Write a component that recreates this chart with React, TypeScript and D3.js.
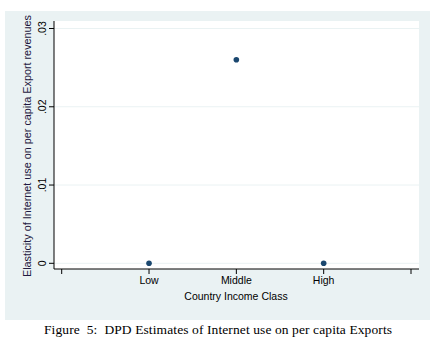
import React from "react";
import * as d3 from "d3";

const categories = ["Low", "Middle", "High"];
const categoryPositions = [1, 2, 3];
const elasticity = [0, 0.026, 0];
const yTicks = [0, 0.01, 0.02, 0.03];
const yTickLabels = ["0", ".01", ".02", ".03"];
const xTicks = [0, 1, 2, 3, 4];
const yTitle = "Elasticity of Internet use on per capita Export revenues";
const xTitle = "Country Income Class";
const caption = "Figure  5:  DPD Estimates of Internet use on per capita Exports";

export default function App() {
  const W = 438, H = 347;
  const plotL = 54, plotR = 419, plotT = 21, plotB = 269;
  const x = d3.scaleLinear().domain([0, 4]).range([61.7, 411]);
  const y = d3.scaleLinear().domain([0, 0.03]).range([263.3, 28.5]);
  const font = "'Liberation Sans', Arial, sans-serif";
  return (
    <svg width={W} height={H} style={{ position: "absolute", left: 0, top: 0, display: "block" }}>
      <rect x={0} y={0} width={W} height={H} fill="#ffffff" />
      <rect x={5} y={11} width={425} height={309} fill="#eaf2f3" />
      <rect x={plotL} y={plotT} width={plotR - plotL} height={plotB - plotT} fill="#ffffff" />
      {yTicks.map((t, i) => (
        <line key={"g" + i} x1={plotL} x2={plotR} y1={y(t)} y2={y(t)} stroke="#eaf2f3" strokeWidth={1} />
      ))}
      {/* y axis */}
      <line x1={plotL} x2={plotL} y1={plotT} y2={plotB} stroke="#000" strokeWidth={1} />
      {yTicks.map((t, i) => (
        <g key={"yt" + i}>
          <line x1={plotL - 5} x2={plotL} y1={y(t)} y2={y(t)} stroke="#000" strokeWidth={1} />
          <text
            transform={`translate(${plotL - 8},${y(t)}) rotate(-90)`}
            textAnchor="middle"
            fontFamily={font}
            fontSize={10.5}
            fill="#000"
          >
            {yTickLabels[i]}
          </text>
        </g>
      ))}
      <text
        transform={`translate(${31},${146}) rotate(-90)`}
        textAnchor="middle"
        fontFamily={font}
        fontSize={10.9}
        fill="#1e1840"
        textLength={262}
        lengthAdjust="spacingAndGlyphs"
      >
        {yTitle}
      </text>
      {/* x axis */}
      <line x1={plotL} x2={plotR} y1={plotB} y2={plotB} stroke="#000" strokeWidth={1} />
      {xTicks.map((t, i) => (
        <line key={"xt" + i} x1={x(t)} x2={x(t)} y1={plotB} y2={plotB + 5} stroke="#000" strokeWidth={1} />
      ))}
      {categories.map((c, i) => (
        <text
          key={"xl" + i}
          x={x(categoryPositions[i])}
          y={283.5}
          textAnchor="middle"
          fontFamily={font}
          fontSize={10.5}
          fill="#000"
        >
          {c}
        </text>
      ))}
      <text x={(plotL + plotR) / 2 - 0.5} y={299.5} textAnchor="middle" fontFamily={font} fontSize={10.5} fill="#000">
        {xTitle}
      </text>
      {/* points */}
      {categories.map((c, i) => (
        <circle key={"p" + i} cx={x(categoryPositions[i])} cy={y(elasticity[i])} r={2.8} fill="#1a476f" />
      ))}
      <text
        x={218}
        y={334}
        textAnchor="middle"
        fontFamily="'Liberation Serif', 'Times New Roman', serif"
        fontSize={13.5}
        fill="#000"
        textLength={348}
        lengthAdjust="spacing"
        style={{ whiteSpace: "pre" }}
      >
        {caption}
      </text>
    </svg>
  );
}
